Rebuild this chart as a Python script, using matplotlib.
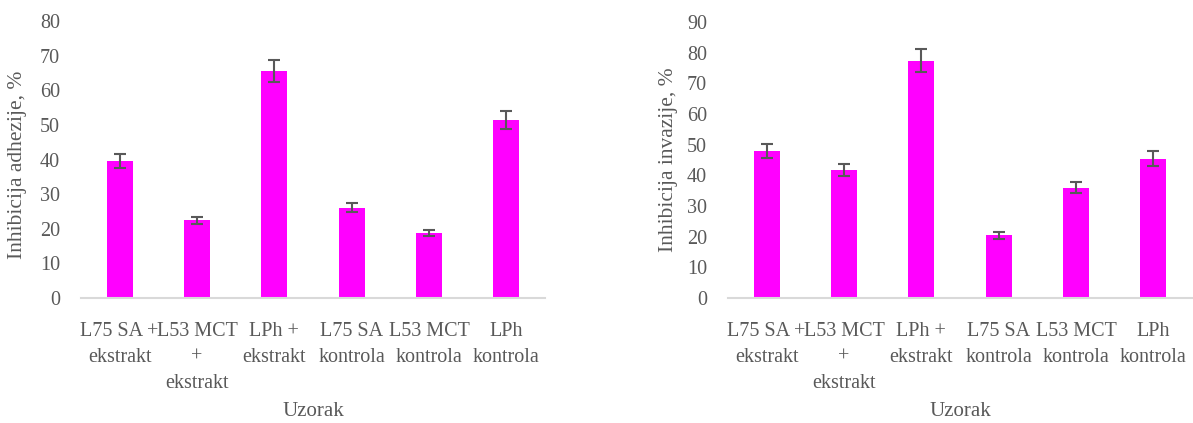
import matplotlib
matplotlib.use("Agg")
import matplotlib.pyplot as plt
import numpy as np

categories = ["L75 SA +\nekstrakt", "L53 MCT\n+\nekstrakt", "LPh +\nekstrakt",
              "L75 SA\nkontrola", "L53 MCT\nkontrola", "LPh\nkontrola"]
adhezija = [39.6, 22.4, 65.6, 26.0, 18.8, 51.4]
adhezija_err = [2.0, 1.1, 3.2, 1.3, 0.9, 2.6]
invazija = [47.9, 41.7, 77.4, 20.4, 36.0, 45.4]
invazija_err = [2.4, 2.0, 3.7, 1.0, 1.8, 2.4]
ylabels = ["Inhibicija adhezije, %", "Inhibicija invazije, %"]
xlabel = "Uzorak"
yticks_left = list(range(0, 81, 10))
yticks_right = list(range(0, 91, 10))

TXT = "#595959"
plt.rcParams['font.family'] = ['Liberation Serif', 'DejaVu Serif']

W, H = 1193, 423
fig = plt.figure(figsize=(W / 100, H / 100), dpi=100)

def px_axes(x0, x1, ytop, ybot):
    return fig.add_axes([x0 / W, (H - ybot) / H, (x1 - x0) / W, (ybot - ytop) / H])

axL = px_axes(81, 545, 21, 298)
axR = px_axes(728, 1192, 22, 298)

for ax, vals, errs, yl, ticks in [
    (axL, adhezija, adhezija_err, ylabels[0], yticks_left),
    (axR, invazija, invazija_err, ylabels[1], yticks_right),
]:
    x = np.arange(len(categories))
    ax.bar(x, vals, width=0.34, color="#FF00FF", zorder=2)
    ax.errorbar(x, vals, yerr=errs, fmt="none", ecolor=TXT, elinewidth=1.5,
                capsize=4, capthick=1.5, zorder=3)
    ax.set_xlim(-0.5, len(categories) - 0.5)
    ax.set_ylim(0, ticks[-1])
    ax.set_yticks(ticks)
    ax.set_xticks(x)
    ax.set_xticklabels(categories, fontsize=14.5, color=TXT, linespacing=1.5)
    ax.tick_params(axis="y", length=0, pad=15, labelsize=14.5, labelcolor=TXT)
    ax.tick_params(axis="x", length=0, pad=17)
    for s in ["top", "right", "left"]:
        ax.spines[s].set_visible(False)
    ax.spines["bottom"].set_color("#D9D9D9")
    ax.spines["bottom"].set_linewidth(1.5)
    ax.set_ylabel(yl, fontsize=15.5, color=TXT, va="center")
    ax.set_xlabel(xlabel, fontsize=15, color=TXT, va="center")
    ax.xaxis.set_label_coords(0.5, -0.41)

axL.yaxis.set_label_coords(-0.136, 0.48)
axR.yaxis.set_label_coords(-0.129, 0.5)

fig.savefig("out.png", dpi=100)
